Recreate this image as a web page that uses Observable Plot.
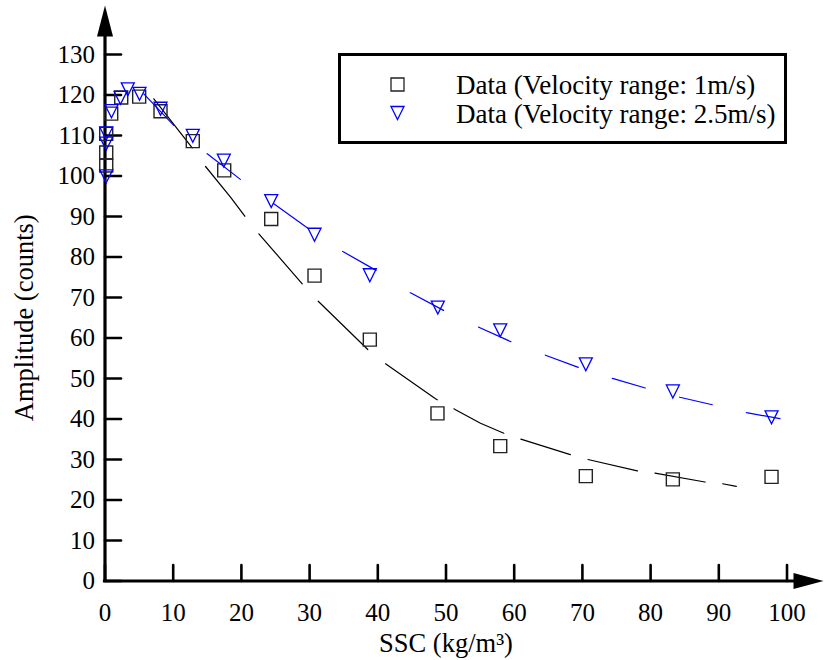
<!DOCTYPE html>
<html>
<head>
<meta charset="utf-8">
<script src="https://cdn.jsdelivr.net/npm/d3@7"></script>
<script src="https://cdn.jsdelivr.net/npm/@observablehq/plot@0.6"></script>
<style>
  html, body { margin: 0; padding: 0; background: #fff; }
  #wrap { position: relative; width: 824px; height: 660px; font-family: "Liberation Serif", "Times New Roman", serif; }
</style>
</head>
<body>
<div id="wrap"></div>
<script>
// ---------- data ----------
const xTicks = [0, 10, 20, 30, 40, 50, 60, 70, 80, 90, 100];
const yTicks = [0, 10, 20, 30, 40, 50, 60, 70, 80, 90, 100, 110, 120, 130];
const xLabel = "SSC (kg/m³)";
const yLabel = "Amplitude (counts)";
const seriesNames = ["Data (Velocity range: 1m/s)", "Data (Velocity range: 2.5m/s)"];

// measured data, velocity 1 m/s (squares)
const ssc1 = [0.18, 0.18, 0.18, 0.91, 2.38, 5.01, 8.14, 12.87, 17.48, 24.37, 30.72, 38.83, 48.75, 57.95, 70.5, 83.26, 97.73];
const amp1 = [110.4, 105.8, 102.6, 115.4, 119.4, 119.6, 116.0, 108.6, 101.4, 89.4, 75.4, 59.6, 41.4, 33.3, 25.9, 25.1, 25.7];

// measured data, velocity 2.5 m/s (triangles)
const ssc2 = [0.18, 0.18, 0.18, 0.95, 2.27, 3.34, 5.06, 8.14, 12.87, 17.42, 24.37, 30.72, 38.83, 48.8, 57.95, 70.5, 83.26, 97.73];
const amp2 = [110.5, 108.0, 99.9, 116.0, 119.3, 121.4, 120.3, 116.6, 109.9, 103.8, 93.8, 85.5, 75.5, 67.5, 61.9, 53.5, 46.8, 40.4];

// fitted curves
const fit1Ssc = [7.16, 12.79, 14.74, 18.40, 20.50, 22.55, 28.92, 31.26, 38.53, 41.13, 48.46, 51.39, 55.06, 58.48, 60.97, 68.23, 70.79, 78.05, 80.62, 87.96, 90.53, 92.57];
const fit1Amp = [119.06, 106.96, 102.35, 94.77, 90.07, 85.73, 73.38, 69.09, 57.16, 53.63, 44.99, 42.30, 38.96, 36.49, 35.04, 31.21, 30.0, 27.21, 26.64, 24.44, 24.02, 23.38];
const fit2Ssc = [5.69, 10.09, 14.99, 19.87, 24.75, 29.88, 34.87, 39.77, 44.79, 49.68, 54.81, 59.56, 64.59, 69.43, 74.41, 79.25, 84.28, 89.08, 94.06, 99.0];
const fit2Amp = [120.30, 112.47, 105.48, 99.14, 93.14, 86.96, 81.36, 76.67, 71.16, 66.79, 62.67, 59.06, 55.73, 52.72, 50.02, 47.65, 45.38, 43.51, 41.56, 40.07];

// ---------- tables ----------
const pts1 = ssc1.map((x, i) => ({ssc: x, amp: amp1[i]}));
const pts2 = ssc2.map((x, i) => ({ssc: x, amp: amp2[i]}));
const fit1 = fit1Ssc.map((x, i) => ({ssc: x, amp: fit1Amp[i]}));
const fit2 = fit2Ssc.map((x, i) => ({ssc: x, amp: fit2Amp[i]}));

// ---------- styling ----------
const FONT = "Liberation Serif, Times New Roman, serif";
const BLUE = "#0000ff";
const squareSym = {draw(c) { const h = 6.5; c.moveTo(-h, -h); c.lineTo(h, -h); c.lineTo(h, h); c.lineTo(-h, h); c.closePath(); }};
const triSym = {draw(c) { const h = 6.5; c.moveTo(-h, -h); c.lineTo(h, -h); c.lineTo(0, h); c.closePath(); }};
const arrowUp = {draw(c) { c.moveTo(0, 0); c.lineTo(8, 31); c.lineTo(-8, 31); c.closePath(); }};
const arrowRight = {draw(c) { c.moveTo(0, 0); c.lineTo(-30, 8); c.lineTo(-30, -8); c.closePath(); }};
const tickShape = {draw(c, l) { c.moveTo(0, 0); c.lineTo(0, -l); }};

const dash1 = "62.3,22.9,63.4,22.5,66.2,23.6,69.2,22.8,63,19,55.6,18,51.9,18.2,50.8,17.7,50.9,17.6,14.1,40";
const dash2 = "43.6,43.7,42,41.2,43,40.9,38.4,40.9,37.7,38.8,35.5,36.9,35.2,35.7,34.4,35.5,33.6,34.9,34.2,40";

const xMax = 105.35, yMax = 142.1;
const xMid = (xTicks[0] + xTicks[xTicks.length - 1]) / 2;
const yMid = (yTicks[0] + yTicks[yTicks.length - 1]) / 2;

const chart = Plot.plot({
  width: 824,
  height: 660,
  marginLeft: 104.5,
  marginRight: 1,
  marginTop: 5,
  marginBottom: 79.5,
  style: {background: "#fff", color: "#000", overflow: "visible"},
  x: {domain: [0, xMax], label: null},
  y: {domain: [0, yMax], label: null},
  marks: [
    Plot.axisX({ticks: xTicks, tickSize: 0, tickPadding: 22.5, label: null}),
    Plot.axisY({ticks: yTicks, tickSize: 0, tickPadding: 10, label: null}),
    Plot.vector(xTicks, {x: d => d, y: 0, length: 16, rotate: 0, anchor: "start", shape: tickShape, stroke: "#000", strokeWidth: 2.6}),
    Plot.vector(yTicks, {x: 0, y: d => d, length: 16, rotate: 90, anchor: "start", shape: tickShape, stroke: "#000", strokeWidth: 2.6}),
    Plot.ruleY([0], {stroke: "#000", strokeWidth: 3.2, strokeLinecap: "square", insetRight: 12}),
    Plot.ruleX([0], {stroke: "#000", strokeWidth: 3.2, strokeLinecap: "square", insetTop: 12}),
    Plot.dot([0], {x: 0, y: yMax, symbol: arrowUp, fill: "#000", stroke: "none"}),
    Plot.dot([0], {x: xMax, y: 0, symbol: arrowRight, fill: "#000", stroke: "none"}),
    Plot.line(fit1, {x: "ssc", y: "amp", stroke: "#000", strokeWidth: 1.2, strokeDasharray: dash1}),
    Plot.line(fit2, {x: "ssc", y: "amp", stroke: BLUE, strokeWidth: 1.2, strokeDasharray: dash2}),
    Plot.dot(pts1, {x: "ssc", y: "amp", symbol: squareSym, fill: "none", stroke: "#222", strokeWidth: 1.4}),
    Plot.dot(pts2, {x: "ssc", y: "amp", symbol: triSym, fill: "none", stroke: BLUE, strokeWidth: 1.3}),
    Plot.text([xLabel], {x: xMid, y: 0, dy: 63, text: d => d, lineAnchor: "middle"}),
    Plot.text([yLabel], {x: 0, y: yMid, dx: -80.5, rotate: -90, text: d => d, lineAnchor: "middle"})
  ]
});

// font family and sizes for all chart texts
const svgSel = d3.select(chart);
svgSel.attr("font-family", FONT).style("font-family", FONT);
svgSel.selectAll("g").attr("font-family", null).attr("font-size", null);
svgSel.selectAll("text").each(function() {
  const t = this.textContent;
  let size = 25;
  if (t === xLabel || t === yLabel) size = 26.5;
  d3.select(this).attr("font-family", FONT).attr("font-size", size)
    .style("font-family", FONT, "important").style("font-size", size + "px", "important");
});

const wrap = document.getElementById("wrap");
wrap.appendChild(chart);

// ---------- legend (overlay box inside the plot area) ----------
const lg = d3.create("svg").attr("id", "legend").attr("width", 450).attr("height", 92)
  .style("position", "absolute").style("left", "338px").style("top", "53px");
lg.append("rect").attr("x", 1.5).attr("y", 1.5).attr("width", 446).attr("height", 88)
  .attr("fill", "#fff").attr("stroke", "#000").attr("stroke-width", 3);
const rows = [
  {name: seriesNames[0], sym: squareSym, color: "#222", cy: 31.5, base: 40.5},
  {name: seriesNames[1], sym: triSym, color: BLUE, cy: 60, base: 70}
];
for (const r of rows) {
  const p = d3.path(); r.sym.draw(p);
  lg.append("path").attr("d", p.toString()).attr("transform", `translate(59.5,${r.cy})`)
    .attr("fill", "none").attr("stroke", r.color).attr("stroke-width", 1.3);
  lg.append("text").attr("x", 118).attr("y", r.base).text(r.name)
    .attr("font-family", FONT).attr("font-size", 27).attr("fill", "#000");
}
wrap.appendChild(lg.node());
</script>
</body>
</html>
